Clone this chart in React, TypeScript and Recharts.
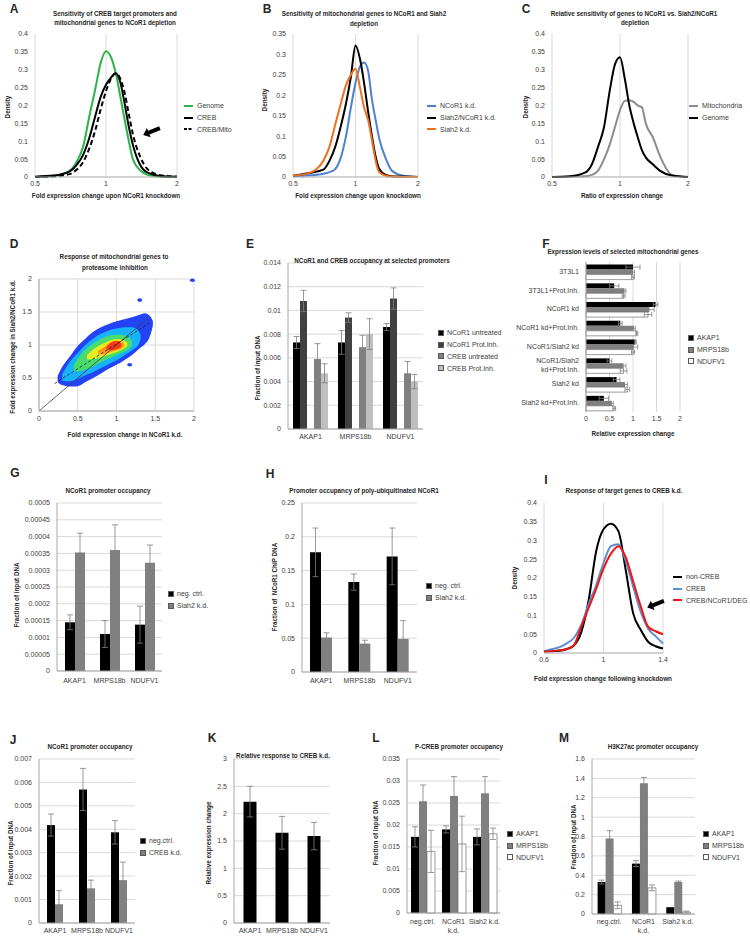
import React from 'react';
import {
  LineChart,
  Line,
  BarChart,
  Bar,
  ErrorBar,
  ComposedChart,
  Area,
  Scatter,
  XAxis,
  YAxis,
  CartesianGrid,
  Legend,
  ReferenceDot,
} from 'recharts';

const FONT = '"Liberation Sans", Arial, sans-serif';
const TICK = { fontSize: 7, fill: '#404040', fontFamily: FONT };
const GRID = '#d9d9d9';
const AXIS = '#a6a6a6';
const ROW = 11.7;

// ---------- A: density vs NCoR1 knockdown (log x)
const aX = [0.5, 0.6, 0.7, 0.75, 0.8, 0.85, 0.9, 0.95, 1, 1.05, 1.1, 1.15, 1.2, 1.25, 1.3, 1.4, 1.5, 1.7, 2];
const aGenome = [0, 0.003, 0.017, 0.042, 0.085, 0.17, 0.245, 0.32, 0.352, 0.335, 0.29, 0.225, 0.16, 0.1, 0.05, 0.018, 0.006, 0.001, 0];
const aCreb = [0.001, 0.004, 0.015, 0.033, 0.062, 0.11, 0.17, 0.225, 0.258, 0.278, 0.29, 0.265, 0.205, 0.14, 0.09, 0.032, 0.012, 0.003, 0.001];
const aMito = [0, 0.002, 0.008, 0.02, 0.042, 0.08, 0.13, 0.19, 0.24, 0.275, 0.29, 0.275, 0.235, 0.175, 0.12, 0.055, 0.022, 0.005, 0.001];

// ---------- B
const bNcor = [0.002, 0.004, 0.008, 0.012, 0.02, 0.048, 0.1, 0.17, 0.23, 0.27, 0.28, 0.26, 0.19, 0.14, 0.095, 0.045, 0.015, 0.003, 0];
const bBoth = [0.003, 0.01, 0.018, 0.04, 0.075, 0.125, 0.18, 0.245, 0.322, 0.29, 0.23, 0.16, 0.1, 0.05, 0.02, 0.005, 0.002, 0.001, 0];
const bSiah = [0.003, 0.01, 0.04, 0.075, 0.13, 0.18, 0.225, 0.25, 0.265, 0.22, 0.17, 0.14, 0.09, 0.04, 0.012, 0.003, 0.001, 0, 0];

// ---------- C
const cMito = [0, 0.001, 0.002, 0.006, 0.018, 0.05, 0.09, 0.14, 0.187, 0.213, 0.215, 0.21, 0.2, 0.195, 0.15, 0.11, 0.06, 0.006, 0];
const cGenome = [0, 0.002, 0.012, 0.035, 0.085, 0.14, 0.24, 0.315, 0.335, 0.275, 0.2, 0.15, 0.11, 0.075, 0.055, 0.035, 0.018, 0.004, 0];

const logTicks = [0.5, 1, 2];
const aYTicks = [0, 0.05, 0.1, 0.15, 0.2, 0.25, 0.3, 0.35, 0.4];
const bYTicks = [0, 0.05, 0.1, 0.15, 0.2, 0.25, 0.3, 0.35];

// ---------- D: density contours [x, low, high]
const dBlue = [[0.24, 0.44, 0.53], [0.28, 0.4, 0.63], [0.34, 0.38, 0.74], [0.4, 0.37, 0.83], [0.48, 0.37, 0.96], [0.6, 0.44, 1.1], [0.7, 0.5, 1.2], [0.8, 0.57, 1.27], [0.9, 0.64, 1.32], [1.0, 0.7, 1.36], [1.1, 0.77, 1.39], [1.2, 0.85, 1.42], [1.3, 0.95, 1.46], [1.37, 1.02, 1.48], [1.42, 1.1, 1.45], [1.45, 1.2, 1.41], [1.47, 1.3, 1.36]];
const dCyan = [[0.3, 0.46, 0.56], [0.4, 0.45, 0.75], [0.5, 0.49, 0.88], [0.6, 0.54, 1.0], [0.7, 0.59, 1.1], [0.8, 0.65, 1.17], [0.9, 0.71, 1.22], [1.0, 0.77, 1.25], [1.1, 0.84, 1.27], [1.2, 0.92, 1.27], [1.28, 1.0, 1.22], [1.31, 1.08, 1.16]];
const dGreen = [[0.45, 0.6, 0.7], [0.55, 0.61, 0.87], [0.65, 0.65, 0.98], [0.75, 0.71, 1.06], [0.85, 0.77, 1.12], [0.95, 0.82, 1.15], [1.05, 0.87, 1.16], [1.15, 0.93, 1.12], [1.2, 0.99, 1.07]];
const dYellow = [[0.62, 0.78, 0.85], [0.72, 0.79, 0.95], [0.82, 0.82, 1.02], [0.92, 0.86, 1.07], [1.02, 0.9, 1.09], [1.1, 0.95, 1.07], [1.14, 0.99, 1.03]];
const dOrange = [[0.76, 0.86, 0.91], [0.84, 0.86, 0.97], [0.92, 0.89, 1.04], [1.0, 0.92, 1.07], [1.07, 0.95, 1.05], [1.1, 0.98, 1.02]];
const dRed = [[0.87, 0.93, 0.97], [0.94, 0.92, 1.04], [1.01, 0.94, 1.06], [1.06, 0.97, 1.02]];
const dSpots = [{ x: 1.3, y: 1.68 }, { x: 1.17, y: 0.7 }, { x: 1.98, y: 1.98 }];
const dDiag = [{ x: 0, y: 0 }, { x: 1.42, y: 1.42 }];
const dFit = [{ x: 0.2, y: 0.415 }, { x: 1.42, y: 1.33 }];
const dTicks = [0, 0.5, 1, 1.5, 2];

// ---------- E
const genes = ['AKAP1', 'MRPS18b', 'NDUFV1'];
const eNcorU = [0.0073, 0.0073, 0.0086];
const eNcorUErr = [0.0005, 0.001, 0.0003];
const eNcorP = [0.0108, 0.0094, 0.011];
const eNcorPErr = [0.0009, 0.0004, 0.0009];
const eCrebU = [0.0059, 0.0069, 0.0047];
const eCrebUErr = [0.0013, 0.001, 0.001];
const eCrebP = [0.0047, 0.008, 0.004];
const eCrebPErr = [0.0008, 0.0013, 0.0006];
const eTicks = [0, 0.002, 0.004, 0.006, 0.008, 0.01, 0.012, 0.014];

// ---------- F
const fConds = ['3T3L1', '3T3L1+Prot.Inh.', 'NCoR1 kd', 'NCoR1 kd+Prot.Inh.', 'NCoR1/Siah2 kd', 'NCoR1/Siah2\nkd+Prot.Inh.', 'Siah2 kd', 'Siah2 kd+Prot.Inh.'];
const fAkap = [1.0, 0.6, 1.48, 0.73, 1.05, 0.5, 0.65, 0.38];
const fAkapErr = [0.15, 0.1, 0.05, 0.04, 0.02, 0.05, 0.07, 0.1];
const fMrps = [1.0, 0.82, 1.35, 1.02, 1.02, 0.8, 0.83, 0.55];
const fMrpsErr = [0.03, 0.03, 0.1, 0.03, 0.08, 0.05, 0.05, 0.03];
const fNduf = [1.0, 0.8, 1.32, 1.08, 1.0, 0.8, 0.88, 0.6];
const fNdufErr = [0.03, 0.03, 0.08, 0.02, 0.03, 0.07, 0.05, 0.03];
const fTicks = [0, 0.5, 1, 1.5, 2];

// ---------- G
const gNeg = [0.000145, 0.00011, 0.000138];
const gNegErr = [0.000022, 0.00004, 0.000055];
const gSiah = [0.000353, 0.00036, 0.000322];
const gSiahErr = [0.000057, 0.000075, 0.000053];
const gTicks = [0, 0.00005, 0.0001, 0.00015, 0.0002, 0.00025, 0.0003, 0.00035, 0.0004, 0.00045, 0.0005];

// ---------- H
const hNeg = [0.177, 0.133, 0.171];
const hNegErr = [0.036, 0.012, 0.042];
const hSiah = [0.051, 0.042, 0.049];
const hSiahErr = [0.007, 0.005, 0.027];
const hTicks = [0, 0.05, 0.1, 0.15, 0.2, 0.25];

// ---------- I
const iX = [0.6, 0.65, 0.7, 0.75, 0.8, 0.85, 0.9, 0.95, 1, 1.05, 1.1, 1.15, 1.2, 1.25, 1.3, 1.35, 1.4];
const iNon = [0.005, 0.005, 0.006, 0.01, 0.02, 0.055, 0.14, 0.27, 0.33, 0.345, 0.325, 0.22, 0.105, 0.062, 0.03, 0.018, 0.012];
const iCreb = [0.005, 0.01, 0.015, 0.025, 0.04, 0.075, 0.13, 0.18, 0.24, 0.285, 0.29, 0.245, 0.176, 0.11, 0.065, 0.045, 0.025];
const iDeg = [0.004, 0.005, 0.007, 0.01, 0.02, 0.07, 0.12, 0.17, 0.225, 0.265, 0.285, 0.255, 0.19, 0.125, 0.07, 0.058, 0.05];
const iXTicks = [0.6, 1, 1.4];

// ---------- J
const jNeg = [0.00418, 0.0057, 0.00387];
const jNegErr = [0.00047, 0.0009, 0.0005];
const jCreb = [0.0008, 0.00148, 0.00183];
const jCrebErr = [0.00058, 0.00035, 0.00077];
const jTicks = [0, 0.001, 0.002, 0.003, 0.004, 0.005, 0.006, 0.007];

// ---------- K
const kResp = [2.22, 1.65, 1.59];
const kRespErr = [0.28, 0.3, 0.25];
const kTicks = [0, 0.5, 1, 1.5, 2, 2.5, 3];

// ---------- L, M
const lmConds = ['neg.ctrl.', 'NCoR1\nk.d.', 'Siah2 k.d.'];
const lAkap = [0.0173, 0.019, 0.0173];
const lAkapErr = [0.0023, 0.0008, 0.0018];
const lMrps = [0.0254, 0.0266, 0.0272];
const lMrpsErr = [0.0037, 0.0044, 0.0038];
const lNduf = [0.014, 0.0157, 0.018];
const lNdufErr = [0.0048, 0.0063, 0.0013];
const lTicks = [0, 0.005, 0.01, 0.015, 0.02, 0.025, 0.03, 0.035];
const mAkap = [0.33, 0.52, 0.07];
const mAkapErr = [0.02, 0.03, 0];
const mMrps = [0.78, 1.35, 0.33];
const mMrpsErr = [0.08, 0.06, 0.01];
const mNduf = [0.09, 0.27, 0.02];
const mNdufErr = [0.035, 0.03, 0.01];
const mTicks = [0, 0.2, 0.4, 0.6, 0.8, 1, 1.2, 1.4, 1.6];

function rowsOf(cats: (string | number)[], cols: Record<string, number[]>, key = 'cat') {
  return cats.map((c, i) => {
    const r: any = { [key]: c };
    Object.keys(cols).forEach((k) => (r[k] = cols[k][i]));
    return r;
  });
}
const toRange = (pts: number[][]) => pts.map(([x, lo, hi]) => ({ x, r: [lo, hi] }));

type Rect = [number, number, number, number];
function frame(r: Rect, yw: number, xh: number, extra: number) {
  const mt = 5;
  const left = r[0] - yw;
  const top = r[1] - mt;
  return {
    left,
    top,
    width: r[2] - left + extra,
    height: r[3] - top + xh,
    margin: { top: mt, right: extra, bottom: 0, left: 0 },
  };
}

// keep legend entries in series order (recharts sorts them by name otherwise)
function ordered(payload: any[] = [], order: string[]) {
  return payload
    .filter((p: any) => p.type !== 'none')
    .slice()
    .sort((a: any, b: any) => order.indexOf(String(a.dataKey)) - order.indexOf(String(b.dataKey)));
}

function LineLegend(props: any) {
  const items = ordered(props.payload, props.order);
  return (
    <div style={{ fontFamily: FONT, fontSize: 7, color: '#404040' }}>
      {items.map((it: any) => (
        <div key={it.value} style={{ height: ROW, display: 'flex', alignItems: 'center', whiteSpace: 'nowrap' }}>
          <svg width={9} height={4} style={{ marginRight: 4 }}>
            <line x1={0} y1={2} x2={9} y2={2} stroke={it.color} strokeWidth={2}
              strokeDasharray={it.payload && it.payload.strokeDasharray ? '3 1.5' : undefined} />
          </svg>
          {it.value}
        </div>
      ))}
    </div>
  );
}

function SwatchLegend(props: any) {
  const items = ordered(props.payload, props.order);
  return (
    <div style={{ fontFamily: FONT, fontSize: 7, color: '#404040' }}>
      {items.map((it: any) => (
        <div key={it.value} style={{ height: ROW, display: 'flex', alignItems: 'center', whiteSpace: 'nowrap' }}>
          <span style={{ width: 4, height: 4, background: it.color, border: '0.6px solid #595959', marginRight: 3, display: 'inline-block' }} />
          {it.value}
        </div>
      ))}
    </div>
  );
}

function Arrow(props: any) {
  const { cx, cy } = props;
  return (
    <path transform={`translate(${cx},${cy}) rotate(-22)`} d="M-9,0 L-3,-5 L-3,-2 L9,-2 L9,2 L-3,2 L-3,5 Z" fill="#000" />
  );
}

function MultiXTick(props: any) {
  const { x, y, payload } = props;
  const lines = String(payload.value).split('\n');
  return (
    <text x={x} y={y} textAnchor="middle" fontSize={7} fill="#404040" fontFamily={FONT}>
      {lines.map((l, i) => (
        <tspan key={i} x={x} dy={i === 0 ? '0.71em' : '1.35em'}>{l}</tspan>
      ))}
    </text>
  );
}

function MultiYTick(props: any) {
  const { x, y, payload } = props;
  const lines = String(payload.value).split('\n');
  const n = lines.length;
  return (
    <text x={x} y={y} textAnchor="end" fontSize={7} fill="#404040" fontFamily={FONT}>
      {lines.map((l, i) => (
        <tspan key={i} x={x} dy={i === 0 ? `${0.355 - (n - 1) * 0.6}em` : '1.2em'}>{l}</tspan>
      ))}
    </text>
  );
}

type Ser = { key: string; name: string; color: string; dash?: string };

function DensityPanel(p: {
  rect: Rect; extra: number; rows: any[]; series: Ser[]; xTicks: number[]; yTicks: number[];
  log?: boolean; legend: [number, number]; arrow?: [number, number];
}) {
  const f = frame(p.rect, 30, 16, p.extra);
  const yMax = p.yTicks[p.yTicks.length - 1];
  const order = p.series.map((s) => s.key);
  return (
    <div style={{ position: 'absolute', left: f.left, top: f.top }}>
      <LineChart width={f.width} height={f.height} margin={f.margin} data={p.rows}>
        <CartesianGrid stroke={GRID} horizontal={false} />
        <XAxis dataKey="x" type="number" scale={p.log ? 'log' : 'linear'} domain={[p.xTicks[0], p.xTicks[p.xTicks.length - 1]]}
          ticks={p.xTicks} interval={0} height={16} tick={TICK} tickLine={false} tickSize={0} tickMargin={4} axisLine={{ stroke: AXIS }} />
        <YAxis type="number" domain={[0, yMax]} ticks={p.yTicks} interval={0} width={30} tick={TICK}
          tickLine={false} tickSize={0} tickMargin={7} axisLine={false} />
        {p.series.map((s) => (
          <Line key={s.key} dataKey={s.key} name={s.name} stroke={s.color} strokeWidth={2} strokeDasharray={s.dash}
            type="monotone" dot={false} activeDot={false} isAnimationActive={false} />
        ))}
        {p.arrow && <ReferenceDot x={p.arrow[0]} y={p.arrow[1]} r={0} ifOverflow="visible" shape={Arrow} />}
        <Legend content={(lp: any) => <LineLegend {...lp} order={order} />} layout="vertical" align="center" verticalAlign="middle"
          wrapperStyle={{ left: p.legend[0] - f.left, top: p.legend[1] - f.top - ROW / 2, width: 90 }} />
      </LineChart>
    </div>
  );
}

type BarSer = { key: string; name: string; fill: string; err?: string; hide?: boolean };

function BarPanel(p: {
  rect: Rect; yw: number; extra: number; rows: any[]; bars: BarSer[]; yTicks: number[];
  legend?: [number, number]; catGap: number; multi?: boolean; tickGap: number;
}) {
  const f = frame(p.rect, p.yw, 26, p.extra);
  const yMax = p.yTicks[p.yTicks.length - 1];
  const order = p.bars.map((b) => b.key);
  return (
    <div style={{ position: 'absolute', left: f.left, top: f.top }}>
      <BarChart width={f.width} height={f.height} margin={f.margin} data={p.rows} barCategoryGap={p.catGap} barGap={0}>
        <CartesianGrid stroke={GRID} vertical={false} />
        <XAxis dataKey="cat" type="category" height={26} interval={0} tick={p.multi ? <MultiXTick /> : TICK}
          tickLine={false} tickSize={0} tickMargin={p.tickGap} axisLine={{ stroke: AXIS }} />
        <YAxis type="number" domain={[0, yMax]} ticks={p.yTicks} interval={0} width={p.yw} tick={TICK}
          tickLine={false} tickSize={0} tickMargin={7} axisLine={{ stroke: AXIS }} />
        {p.bars.map((b) => (
          <Bar key={b.key} dataKey={b.key} name={b.name} fill={b.fill} stroke={b.fill === '#ffffff' ? '#595959' : 'none'}
            strokeWidth={0.6} legendType={b.hide ? 'none' : 'square'} isAnimationActive={false}>
            {b.err && <ErrorBar dataKey={b.err} width={3} stroke="#7f7f7f" strokeWidth={0.8} direction="y" />}
          </Bar>
        ))}
        {p.legend && (
          <Legend content={(lp: any) => <SwatchLegend {...lp} order={order} />} layout="vertical" align="center" verticalAlign="middle"
            wrapperStyle={{ left: p.legend[0] - f.left, top: p.legend[1] - f.top - ROW / 2, width: 90 }} />
        )}
      </BarChart>
    </div>
  );
}

function Txt({ x, y, children, size = 6.3, bold = true, rot = false }: any) {
  return (
    <div style={{
      position: 'absolute', left: x, top: y, transform: `translate(-50%, -50%)${rot ? ' rotate(-90deg)' : ''}`,
      fontSize: size, fontWeight: bold ? 700 : 400, whiteSpace: 'pre', lineHeight: 1, color: '#262626', fontFamily: FONT,
    }}>{children}</div>
  );
}

const Letter = ({ x, y, c }: any) => <Txt x={x} y={y} size={12}>{c}</Txt>;

export default function App() {
  const aRows = rowsOf(aX, { genome: aGenome, creb: aCreb, mito: aMito }, 'x');
  const bRows = rowsOf(aX, { ncor: bNcor, both: bBoth, siah: bSiah }, 'x');
  const cRows = rowsOf(aX, { mito: cMito, genome: cGenome }, 'x');
  const iRows = rowsOf(iX, { non: iNon, creb: iCreb, deg: iDeg }, 'x');

  const eRows = rowsOf(genes, { nu: eNcorU, nue: eNcorUErr, np: eNcorP, npe: eNcorPErr, cu: eCrebU, cue: eCrebUErr, cp: eCrebP, cpe: eCrebPErr });
  const fRows = rowsOf(fConds, { a: fAkap, ae: fAkapErr, m: fMrps, me: fMrpsErr, n: fNduf, ne: fNdufErr });
  const gRows = rowsOf(genes, { a: gNeg, ae: gNegErr, b: gSiah, be: gSiahErr });
  const hRows = rowsOf(genes, { a: hNeg, ae: hNegErr, b: hSiah, be: hSiahErr });
  const jRows = rowsOf(genes, { a: jNeg, ae: jNegErr, b: jCreb, be: jCrebErr });
  const kRows = rowsOf(genes, { a: kResp, ae: kRespErr });
  const lRows = rowsOf(lmConds, { a: lAkap, ae: lAkapErr, m: lMrps, me: lMrpsErr, n: lNduf, ne: lNdufErr });
  const mRows = rowsOf(lmConds, { a: mAkap, ae: mAkapErr, m: mMrps, me: mMrpsErr, n: mNduf, ne: mNdufErr });

  const geneBars: BarSer[] = [
    { key: 'a', name: 'AKAP1', fill: '#000000', err: 'ae' },
    { key: 'm', name: 'MRPS18b', fill: '#808080', err: 'me' },
    { key: 'n', name: 'NDUFV1', fill: '#ffffff', err: 'ne' },
  ];
  const geneOrder = geneBars.map((b) => b.key);

  const fF = frame([586, 262, 680, 412], 75, 15, 70);
  const fD = frame([39, 279, 194, 411], 25, 15, 10);

  return (
    <div style={{ position: 'absolute', left: 0, top: 0, width: 750, height: 938, background: '#fff', overflow: 'hidden', fontFamily: FONT }}>
      {/* A */}
      <DensityPanel rect={[35, 34, 177, 177]} extra={75} rows={aRows} log xTicks={logTicks} yTicks={aYTicks} legend={[184, 106]} arrow={[1.56, 0.127]}
        series={[
          { key: 'genome', name: 'Genome', color: '#2db34a' },
          { key: 'creb', name: 'CREB', color: '#000000' },
          { key: 'mito', name: 'CREB/Mito', color: '#000000', dash: '5 3' },
        ]} />
      {/* B */}
      <DensityPanel rect={[293, 34, 418, 177]} extra={85} rows={bRows} log xTicks={logTicks} yTicks={bYTicks} legend={[427, 106]}
        series={[
          { key: 'ncor', name: 'NCoR1 k.d.', color: '#4f81d0' },
          { key: 'both', name: 'Siah2/NCoR1 k.d.', color: '#000000' },
          { key: 'siah', name: 'Siah2 k.d.', color: '#f07020' },
        ]} />
      {/* C */}
      <DensityPanel rect={[552, 34, 688, 177]} extra={60} rows={cRows} log xTicks={logTicks} yTicks={aYTicks} legend={[689, 106]}
        series={[
          { key: 'mito', name: 'Mitochondria', color: '#8c8c8c' },
          { key: 'genome', name: 'Genome', color: '#000000' },
        ]} />

      {/* D */}
      <div style={{ position: 'absolute', left: fD.left, top: fD.top }}>
        <ComposedChart width={fD.width} height={fD.height} margin={fD.margin}>
          <CartesianGrid stroke={GRID} />
          <XAxis dataKey="x" type="number" domain={[0, 2]} ticks={dTicks} interval={0} height={15} tick={TICK}
            tickLine={false} tickSize={0} tickMargin={5} axisLine={{ stroke: AXIS }} />
          <YAxis dataKey="y" type="number" domain={[0, 2]} ticks={dTicks} interval={0} width={25} tick={TICK}
            tickLine={false} tickSize={0} tickMargin={7} axisLine={{ stroke: AXIS }} />
          {[
            [dBlue, '#2344f5'],
            [dCyan, '#16b2fc'],
            [dGreen, '#47dc6c'],
            [dYellow, '#e6ee22'],
            [dOrange, '#ff9a12'],
            [dRed, '#ff3414'],
          ].map(([pts, col], i) => (
            <Area key={i} data={toRange(pts as number[][])} dataKey="r" type="monotone" fill={col as string} fillOpacity={1}
              stroke="none" dot={false} activeDot={false} isAnimationActive={false} />
          ))}
          <Scatter data={dSpots} fill="#2344f5" isAnimationActive={false}
            shape={(sp: any) => <ellipse cx={sp.cx} cy={sp.cy} rx={2.5} ry={1.8} fill="#2344f5" />} />
          <Line data={dDiag} dataKey="y" type="linear" stroke="#404040" strokeWidth={0.8} dot={false} activeDot={false} isAnimationActive={false} />
          <Line data={dFit} dataKey="y" type="linear" stroke="#202020" strokeWidth={0.8} strokeDasharray="3 2" dot={false} activeDot={false} isAnimationActive={false} />
        </ComposedChart>
      </div>

      {/* E */}
      <BarPanel rect={[288, 263, 423, 429]} yw={40} extra={80} rows={eRows} yTicks={eTicks} legend={[438, 333]} catGap={5} tickGap={5}
        bars={[
          { key: 'nu', name: 'NCoR1 untreated', fill: '#000000', err: 'nue' },
          { key: 'np', name: 'NCoR1 Prot.Inh.', fill: '#404040', err: 'npe' },
          { key: 'gap', name: 'gap', fill: '#ffffff', hide: true },
          { key: 'cu', name: 'CREB untreated', fill: '#808080', err: 'cue' },
          { key: 'cp', name: 'CREB Prot.Inh.', fill: '#bfbfbf', err: 'cpe' },
        ]} />

      {/* F */}
      <div style={{ position: 'absolute', left: fF.left, top: fF.top }}>
        <BarChart layout="vertical" width={fF.width} height={fF.height} margin={fF.margin} data={fRows} barCategoryGap={2.6} barGap={0}>
          <CartesianGrid stroke={GRID} horizontal={false} />
          <XAxis type="number" domain={[0, 2]} ticks={fTicks} interval={0} height={15} tick={TICK}
            tickLine={false} tickSize={0} tickMargin={4} axisLine={false} />
          <YAxis type="category" dataKey="cat" width={75} interval={0} tick={<MultiYTick />}
            tickLine={false} tickSize={0} tickMargin={7} axisLine={{ stroke: AXIS }} />
          {geneBars.map((b) => (
            <Bar key={b.key} dataKey={b.key} name={b.name} fill={b.fill} stroke={b.fill === '#ffffff' ? '#595959' : 'none'}
              strokeWidth={0.6} isAnimationActive={false}>
              <ErrorBar dataKey={b.err as string} width={2.5} stroke="#7f7f7f" strokeWidth={0.8} direction="x" />
            </Bar>
          ))}
          <Legend content={(lp: any) => <SwatchLegend {...lp} order={geneOrder} />} layout="vertical" align="center" verticalAlign="middle"
            wrapperStyle={{ left: 688 - fF.left, top: 338 - fF.top - ROW / 2, width: 70 }} />
        </BarChart>
      </div>

      {/* G */}
      <BarPanel rect={[57, 503, 162, 671]} yw={45} extra={60} rows={gRows} yTicks={gTicks} legend={[168, 594]} catGap={8} tickGap={7}
        bars={[
          { key: 'a', name: 'neg. ctrl.', fill: '#000000', err: 'ae' },
          { key: 'b', name: 'Siah2 k.d.', fill: '#808080', err: 'be' },
        ]} />
      {/* H */}
      <BarPanel rect={[302, 503, 417, 672]} yw={30} extra={60} rows={hRows} yTicks={hTicks} legend={[426, 586]} catGap={8} tickGap={6}
        bars={[
          { key: 'a', name: 'neg. ctrl.', fill: '#000000', err: 'ae' },
          { key: 'b', name: 'Siah2 k.d.', fill: '#808080', err: 'be' },
        ]} />
      {/* I */}
      <DensityPanel rect={[544, 503, 663, 653]} extra={85} rows={iRows} xTicks={iXTicks} yTicks={aYTicks} legend={[673, 577]} arrow={[1.35, 0.13]}
        series={[
          { key: 'non', name: 'non-CREB', color: '#000000' },
          { key: 'creb', name: 'CREB', color: '#5b8fd0' },
          { key: 'deg', name: 'CREB/NCoR1/DEG', color: '#f01414' },
        ]} />

      {/* J */}
      <BarPanel rect={[39, 759, 135, 923]} yw={30} extra={50} rows={jRows} yTicks={jTicks} legend={[140, 841]} catGap={8} tickGap={5}
        bars={[
          { key: 'a', name: 'neg.ctrl.', fill: '#000000', err: 'ae' },
          { key: 'b', name: 'CREB k.d.', fill: '#808080', err: 'be' },
        ]} />
      {/* K */}
      <BarPanel rect={[234, 759, 330, 923]} yw={20} extra={5} rows={kRows} yTicks={kTicks} catGap={9.5} tickGap={5}
        bars={[{ key: 'a', name: 'Relative response', fill: '#000000', err: 'ae' }]} />
      {/* L */}
      <BarPanel rect={[407, 759, 500, 913]} yw={35} extra={50} rows={lRows} yTicks={lTicks} legend={[507, 834]} catGap={4} tickGap={6} multi
        bars={geneBars} />
      {/* M */}
      <BarPanel rect={[592, 759, 695, 914]} yw={20} extra={55} rows={mRows} yTicks={mTicks} legend={[703, 834]} catGap={5.6} tickGap={5} multi
        bars={geneBars} />

      {/* letters */}
      <Letter x={14} y={9} c="A" />
      <Letter x={267} y={9} c="B" />
      <Letter x={526} y={9} c="C" />
      <Letter x={14} y={244} c="D" />
      <Letter x={250} y={244} c="E" />
      <Letter x={546} y={244} c="F" />
      <Letter x={15} y={473} c="G" />
      <Letter x={270} y={474} c="H" />
      <Letter x={546} y={480} c="I" />
      <Letter x={13} y={740} c="J" />
      <Letter x={212} y={738} c="K" />
      <Letter x={376} y={738} c="L" />
      <Letter x={564} y={738} c="M" />

      {/* titles */}
      <Txt x={115} y={14}>Sensitivity of CREB target promoters and</Txt>
      <Txt x={115} y={23}>mitochondrial genes to NCoR1 depletion</Txt>
      <Txt x={364} y={14}>Sensitivity of mitochondrial genes to NCoR1 and Siah2</Txt>
      <Txt x={364} y={24}>depletion</Txt>
      <Txt x={634} y={14}>Relative sensitivity of genes to NCoR1 vs. Siah2/NCoR1</Txt>
      <Txt x={635} y={23}>depletion</Txt>
      <Txt x={114} y={257}>Response of mitochondrial genes to</Txt>
      <Txt x={115} y={268}>proteasome inhibition</Txt>
      <Txt x={372} y={261}>NCoR1 and CREB occupancy at selected promoters</Txt>
      <Txt x={623} y={252}>Expression levels of selected mitochondrial genes</Txt>
      <Txt x={108} y={491}>NCoR1 promoter occupancy</Txt>
      <Txt x={364} y={491}>Promoter occupancy of poly-ubiquitinated NCoR1</Txt>
      <Txt x={624} y={491}>Response of target genes to CREB k.d.</Txt>
      <Txt x={90} y={747}>NCoR1 promoter occupancy</Txt>
      <Txt x={283} y={756}>Relative response to CREB k.d.</Txt>
      <Txt x={459} y={747}>P-CREB promoter occupancy</Txt>
      <Txt x={653} y={747}>H3K27ac promoter occupancy</Txt>

      {/* axis titles */}
      <Txt x={8} y={107} rot>Density</Txt>
      <Txt x={265} y={100} rot>Density</Txt>
      <Txt x={526} y={107} rot>Density</Txt>
      <Txt x={13} y={347} rot>Fold expression change in Siah2/NCoR1 k.d.</Txt>
      <Txt x={258} y={368} rot>Fraction of input DNA</Txt>
      <Txt x={17} y={595} rot>Fraction of input DNA</Txt>
      <Txt x={275} y={587} rot>Fraction of  NCoR1 ChIP DNA</Txt>
      <Txt x={515} y={578} rot>Density</Txt>
      <Txt x={11} y={853} rot>Fraction of input DNA</Txt>
      <Txt x={209} y={843} rot>Relative expression change</Txt>
      <Txt x={376} y={833} rot>Fraction of input DNA</Txt>
      <Txt x={574} y={837} rot>Fraction of input DNA</Txt>
      <Txt x={106} y={196}>Fold expression change upon NCoR1 knockdown</Txt>
      <Txt x={358} y={196}>Fold expression change upon knockdown</Txt>
      <Txt x={622} y={196}>Ratio of expression change</Txt>
      <Txt x={125} y={435}>Fold expression change in NCoR1 k.d.</Txt>
      <Txt x={633} y={434}>Relative expression change</Txt>
      <Txt x={603} y={679}>Fold expression change following knockdown</Txt>
    </div>
  );
}
